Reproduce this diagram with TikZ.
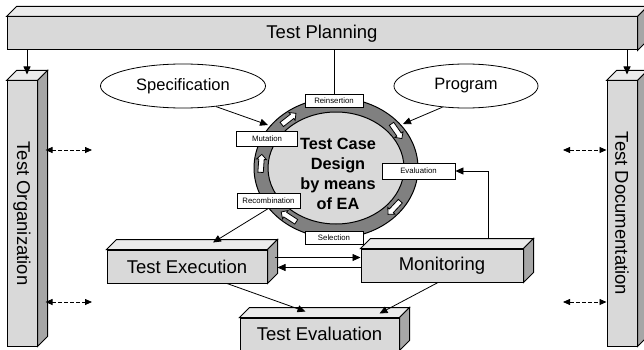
\documentclass[tikz,border=0pt]{standalone}
\usepackage{fontspec}
\setmainfont{Liberation Sans}
\usetikzlibrary{arrows.meta,shapes.geometric,shapes.arrows,calc}

% top and side faces of a block node
\newcommand\boxfaces[1]{%
  \filldraw[fill=black!8, line width=1pt] (#1.north west) -- ++(10,-10)
    -- ([shift={(10,-10)}]#1.north east) -- (#1.north east) -- cycle;
  \filldraw[fill=black!35, line width=1pt] (#1.north east) -- ([shift={(10,-10)}]#1.north east)
    -- ([shift={(10,-10)}]#1.south east) -- (#1.south east) -- cycle;
}

\begin{document}
\begin{tikzpicture}[x=1pt, y=-1pt, line width=0.8pt,
block/.style={draw, fill=black!15, line width=1pt, inner sep=0, font=\fontsize{18.5}{22}\selectfont},
oval/.style={ellipse, draw, fill=white, inner sep=0, font=\fontsize{16.5}{20}\selectfont},
opbox/.style={draw, fill=white, inner sep=0, font=\fontsize{7.8}{9}\selectfont},
turn/.style={single arrow, draw, fill=white, line width=0.8pt, inner sep=2.3pt,
  minimum height=18pt, single arrow head extend=2.2pt},
flow/.style={-{Triangle[length=8pt,width=7pt]}},
link/.style={{Triangle[length=7pt,width=6pt]}-{Triangle[length=7pt,width=6pt]}, dash pattern=on 4pt off 2pt}]
\useasboundingbox (0,0) rectangle (644,350);

% frame
\node[block, minimum width=630, minimum height=33] (plan) at (322,33.5) {Test Planning};
\boxfaces{plan}
\node[block, minimum width=30, minimum height=265] (org) at (22,213.5) {};
\boxfaces{org}
\node[rotate=-90, font=\fontsize{18.5}{22}\selectfont] (orgtxt) at (org) {Test Organization};
\node[block, minimum width=30, minimum height=265] (doc) at (622,213.5) {};
\boxfaces{doc}
\node[rotate=-90, font=\fontsize{18.5}{22}\selectfont] (doctxt) at (doc) {Test Documentation};

\path ([shift={(5,-6)}]org.north) coordinate (orgtop);
\path ([shift={(5,-6)}]doc.north) coordinate (doctop);
\draw[flow] (orgtop |- plan.south) -- (orgtop);
\draw[flow] (doctop |- plan.south) -- (doctop);

\coordinate (l1) at (92,150);
\coordinate (l2) at (92,302);
\coordinate (r1) at (563,150);
\coordinate (r2) at (563,302);
\draw[link] ([shift={(8,-63.5)}]org.east) -- (l1);
\draw[link] ([shift={(8,88.5)}]org.east) -- (l2);
\draw[link] (r1) -- ([shift={(0,-63.5)}]doc.west);
\draw[link] (r2) -- ([shift={(0,88.5)}]doc.west);

% inputs
\node[oval, minimum width=165, minimum height=44] (spec) at (183,86) {Specification};
\node[oval, minimum width=144, minimum height=44] (prog) at (466,86) {Program};

% EA cycle
\coordinate (ring) at (336,168);
\filldraw[fill=black!50, line width=1pt] (ring) ellipse [x radius=82, y radius=70];
\filldraw[fill=black!15, line width=1pt] (ring) ellipse [x radius=68, y radius=56];
\foreach \t/\r in {130/38, 37/-55, -38/227, -128/147, 177/86}
  \node[turn, rotate=\r] (turn\t) at ([shift={({75*cos(\t)},{-63*sin(\t)})}]ring) {};
\node[align=center, font=\bfseries\fontsize{16.3}{20}\selectfont] (ea) at (338,174)
  {Test Case\\Design\\by means\\of EA};

\node[opbox, minimum width=58, minimum height=13] (reins) at (334,101) {Reinsertion};
\node[opbox, minimum width=61, minimum height=15] (mut) at (267,138.5) {Mutation};
\node[opbox, minimum width=73, minimum height=16] (eval) at (418.5,171) {Evaluation};
\node[opbox, minimum width=63, minimum height=15] (recomb) at (268.5,200.5) {Recombination};
\node[opbox, minimum width=58, minimum height=13] (sel) at (334,237.5) {Selection};

\draw (reins.north) -- (reins.north |- plan.south);
\coordinate (specin) at (268,125);
\coordinate (progin) at (403,124);
\draw[flow] (spec.-32) -- (specin);
\draw[flow] (prog.-138) -- (progin);

% execution part
\node[block, minimum width=160, minimum height=33] (exec) at (187,266.5) {Test Execution};
\boxfaces{exec}
\node[block, minimum width=162, minimum height=33] (mon) at (442,265.5) {Monitoring};
\boxfaces{mon}
\node[block, minimum width=159, minimum height=32] (teval) at (319.5,334) {Test Evaluation};
\boxfaces{teval}

\draw[flow] (recomb.south) -- ([shift={(26,-7)}]exec.north);
\draw[flow] ([shift={(46,-10)}]mon.north) |- (eval.east);
\draw[flow] ($(exec.east)+(7,-9)$) -- ($(mon.west)+(0,-8)$);
\draw[flow] ($(mon.west)+(0,2)$) -- ($(exec.east |- mon.west)+(10,2)$);
\draw[flow] ([xshift=40pt]exec.south) -- ([shift={(-14,-6)}]teval.north);
\draw[flow] ([xshift=-4pt]mon.south) -- ([shift={(60,-4)}]teval.north);
\end{tikzpicture}
\end{document}
